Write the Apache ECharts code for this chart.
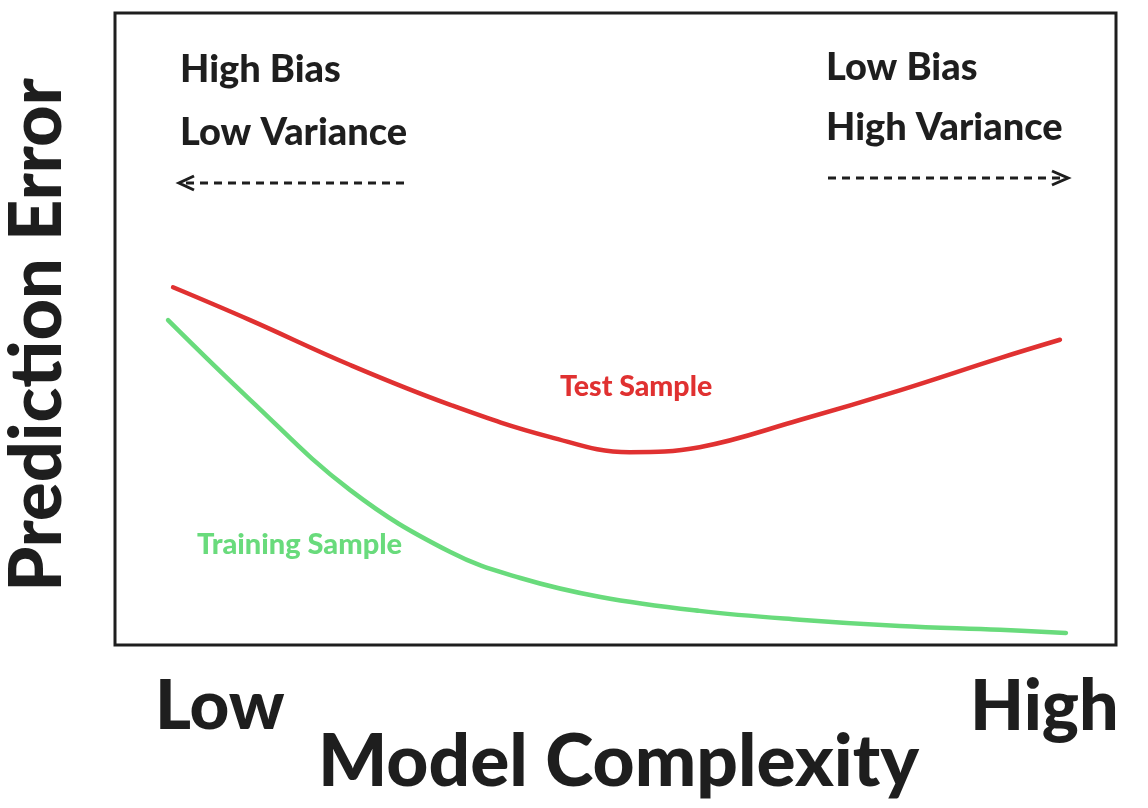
<!DOCTYPE html>
<html><head><meta charset="utf-8">
<script src="https://cdn.jsdelivr.net/npm/echarts@6/dist/echarts.min.js"></script>
<style>html,body{margin:0;padding:0;background:#fff}#c{width:1148px;height:808px}</style>
</head><body><div id="c"></div>
<script>
const testX = [5.8, 13.5, 23.5, 33.5, 43.5, 51.4, 58.4, 68.4, 78.4, 88.4, 94.4];
const testY = [56.6, 51.4, 44.3, 38.0, 32.9, 30.5, 31.3, 35.6, 40.3, 45.4, 48.3];
const trainX = [5.3, 13.5, 23.5, 33.5, 40.5, 48.5, 58.4, 68.4, 78.4, 88.4, 95.0];
const trainY = [51.4, 38.8, 24.5, 14.7, 10.6, 7.6, 5.4, 4.0, 3.0, 2.4, 1.9];
const xTickLabels = ['Low', 'High'];
const yAxisTitle = 'Prediction Error';
const xAxisTitle = 'Model Complexity';
const leftNote = ['High Bias', 'Low Variance'];
const rightNote = ['Low Bias', 'High Variance'];
const seriesNames = ['Test Sample', 'Training Sample'];

const ink = '#1e1e1e', red = '#e03131', green = '#69db7c';
const font = 'Lato';
const chart = echarts.init(document.getElementById('c'));
const zip = (a, b) => a.map((v, i) => [v, b[i]]);
const T = (text, x, y, size, color, extra) => Object.assign({
  type: 'text', x, y,
  style: { text, fill: color || ink, font: '900 ' + size + 'px ' + font, textVerticalAlign: 'middle' }
}, extra || {});
chart.setOption({
  animation: false,
  grid: { left: 115, top: 13, width: 1001, height: 632, show: true, borderColor: ink, borderWidth: 3, backgroundColor: 'transparent' },
  xAxis: { type: 'value', min: 0, max: 100, show: false },
  yAxis: { type: 'value', min: 0, max: 100, show: false },
  series: [
    { name: seriesNames[0], type: 'line', smooth: 0.4, symbol: 'none', data: zip(testX, testY),
      lineStyle: { color: red, width: 4.5, cap: 'round' } },
    { name: seriesNames[1], type: 'line', smooth: 0.4, symbol: 'none', data: zip(trainX, trainY),
      lineStyle: { color: green, width: 4.5, cap: 'round' } }
  ],
  graphic: [
    T(leftNote[0], 180, 70, 38),
    T(leftNote[1], 180, 133, 38),
    T(rightNote[0], 826, 68, 38),
    T(rightNote[1], 826, 128, 38),
    T(seriesNames[0], 560, 387, 28.5, red),
    T(seriesNames[1], 197, 545, 29, green),
    T(xTickLabels[0], 155, 707, 69),
    T(xTickLabels[1], 970, 707, 70),
    T(xAxisTitle, 318, 762, 73),
    { type: 'text', x: 38, y: 335, rotation: Math.PI / 2,
      style: { text: yAxisTitle, fill: ink, font: '900 72px ' + font, align: 'center', verticalAlign: 'middle' } },
    { type: 'line', shape: { x1: 186, y1: 183, x2: 408, y2: 183 }, style: { stroke: ink, lineWidth: 3, lineDash: [8, 6] } },
    { type: 'polyline', shape: { points: [[194, 176], [179, 183], [194, 190]] }, style: { stroke: ink, lineWidth: 3, fill: null } },
    { type: 'line', shape: { x1: 828, y1: 178, x2: 1060, y2: 178 }, style: { stroke: ink, lineWidth: 3, lineDash: [8, 6] } },
    { type: 'polyline', shape: { points: [[1052, 171], [1068, 178], [1052, 185]] }, style: { stroke: ink, lineWidth: 3, fill: null } }
  ]
});
</script></body></html>
